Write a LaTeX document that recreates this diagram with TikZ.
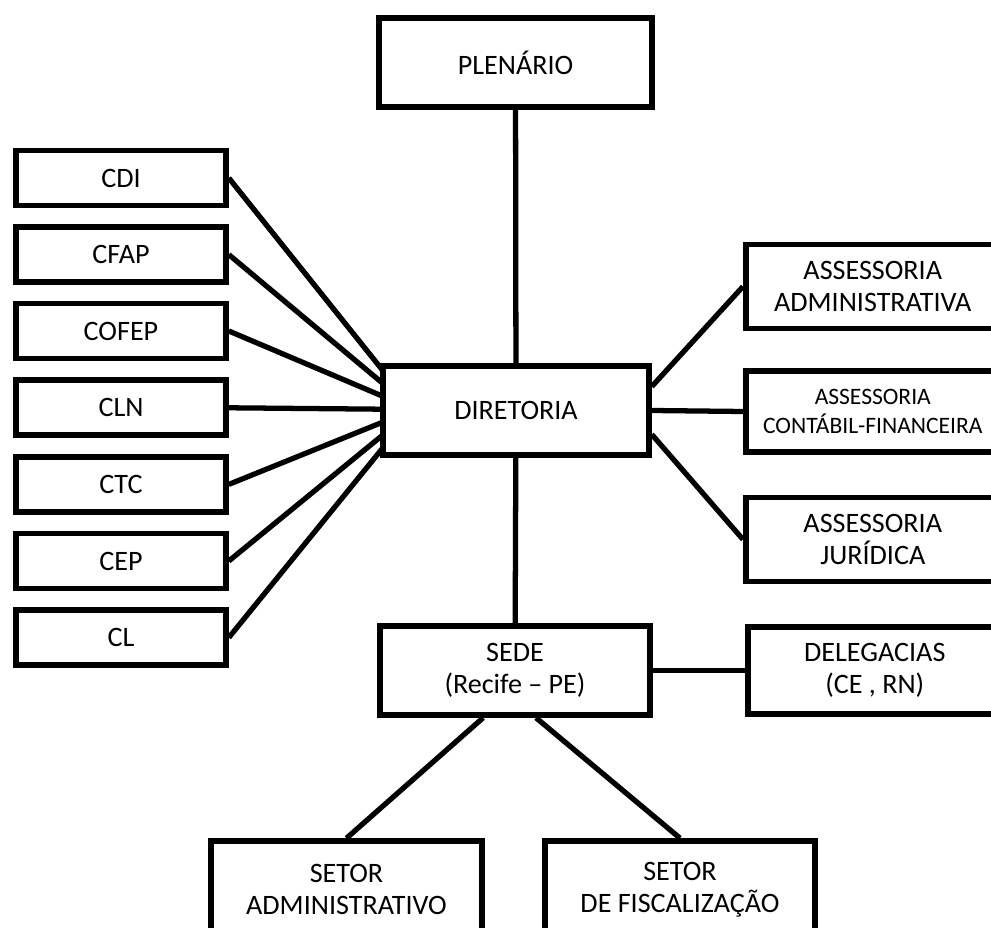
\documentclass[tikz,border=0pt]{standalone}
\usepackage{fontspec}
\setmainfont{Carlito}
\usetikzlibrary{backgrounds}
\setlength{\lineskiplimit}{-20pt}
\newcommand{\folga}{\hspace*{0.52cm}}

\begin{document}
\begin{tikzpicture}[x = 0.02cm, y = -0.02cm,
                    caixa/.style = {draw, fill = white, line width = 3.2pt, align = center, inner sep = 0pt,
                                    font = \fontsize{16}{18.5}\selectfont},
                    comissao/.style = {caixa, minimum width = 4.2cm, minimum height = 1.1cm},
                    central/.style = {caixa, minimum width = 5.4cm, minimum height = 1.78cm},
                    assessoria/.style = {caixa, anchor = west, minimum width = 5.6cm, minimum height = 1.68cm},
                    setor/.style = {central, minimum height = 1.94cm},
                    liga/.style = {line width = 3pt}]
                \useasboundingbox (0,0) rectangle (991,928);
                \clip (0,0) rectangle (991,928);
                \node[central, minimum width = 5.46cm] (plenario) at (515.5,62.5) {PLENÁRIO};
                \node[central, minimum width = 5.32cm] (diretoria) at (516,410.5) {DIRETORIA};
                \node[central] (sede) at (515,670.5) {SEDE\\(Recife -- PE)};
                \node[assessoria] (admin) at (743,286.5) {ASSESSORIA\folga\\ADMINISTRATIVA\folga};
                \node[assessoria, minimum height = 1.62cm, font = \fontsize{13.4}{16.8}\selectfont] (contabil) at (743,411.5) {ASSESSORIA\folga\\CONTÁBIL-FINANCEIRA\folga};
                \node[assessoria] (juridica) at (743,539.5) {ASSESSORIA\folga\\JURÍDICA\folga};
                \node[assessoria, minimum height = 1.74cm] (delegacias) at (745,670.5) {DELEGACIAS\folga\\(CE , RN)\folga};
                \node[setor, minimum width = 5.42cm] (setoradm) at (346.5,889.5) {SETOR\\ADMINISTRATIVO};
                \node[setor] (setorfisc) at (680,889.5) {SETOR\\DE FISCALIZAÇÃO};
                \coordinate (foco) at (414,409.5);
                % comissoes
                \begin{scope}[on background layer]
                \foreach \sigla/\yy in {CDI/178, CFAP/254.6, COFEP/331, CLN/407.8, CTC/484.4, CEP/561, CL/637.6}{
                    \node[comissao] (\sigla) at (121,\yy) {\sigla};
                    \draw[liga] (\sigla.east) -- (foco);
                }
                \end{scope}
                \draw[liga] (plenario) -- (diretoria);
                \draw[liga] (diretoria) -- (sede);
                \draw[liga] (diretoria.10) -- (admin.west);
                \draw[liga] (diretoria.east) -- (contabil.west);
                \draw[liga] (diretoria.-10) -- (juridica.west);
                \draw[liga] (sede.east) -- (delegacias.west);
                \draw[liga] (sede.-124) -- (setoradm.north);
                \draw[liga] (sede.-66) -- (setorfisc.north);
                \end{tikzpicture}
\end{document}
